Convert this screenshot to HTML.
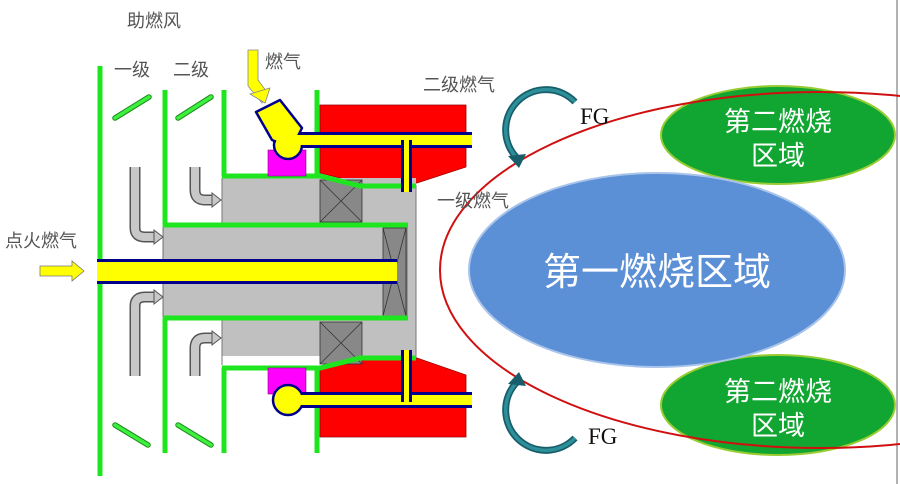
<!DOCTYPE html>
<html><head><meta charset="utf-8"><style>
html,body{margin:0;padding:0;background:#fff;}
svg{display:block;}
text{font-family:"Liberation Sans","Noto Sans CJK SC",sans-serif;}
</style></head><body>
<svg width="900" height="484" viewBox="0 0 900 484" xmlns="http://www.w3.org/2000/svg">
<rect width="900" height="484" fill="#fff"/>
<line x1="897" y1="0" x2="897" y2="484" stroke="#999" stroke-width="1.5"/>

<polygon points="320,105 466,105 466,167 417,183 360,183 320,173" fill="#f00" stroke="#900" stroke-width="0.8"/>
<polygon points="320,368 360,358 417,358 466,375 466,437 320,437" fill="#f00" stroke="#900" stroke-width="0.8"/>

<rect x="222" y="178" width="194" height="178" fill="#c0c0c0"/>
<polygon points="320,178 320,176 360,186 416,186 416,178" fill="#c0c0c0"/>
<rect x="163" y="227" width="244" height="90" fill="#c0c0c0" stroke="#555" stroke-width="0.8"/>
<line x1="222" y1="178" x2="222" y2="225" stroke="#777" stroke-width="1"/>
<line x1="222" y1="320" x2="222" y2="365" stroke="#777" stroke-width="1"/>
<line x1="416" y1="185" x2="416" y2="358" stroke="#777" stroke-width="1"/>
<g fill="#888" stroke="#333" stroke-width="0.8">
<rect x="320" y="180" width="42" height="42"/><rect x="320" y="322" width="42" height="42"/>
<rect x="383" y="228" width="23" height="88"/>
</g>
<g stroke="#333" stroke-width="0.8">
<line x1="320" y1="180" x2="362" y2="222"/><line x1="362" y1="180" x2="320" y2="222"/>
<line x1="320" y1="322" x2="362" y2="364"/><line x1="362" y1="322" x2="320" y2="364"/>
<line x1="383" y1="228" x2="406" y2="316"/><line x1="406" y1="228" x2="383" y2="316"/>
</g>

<g fill="none" stroke="#1ee61e" stroke-width="5">
<line x1="100" y1="66" x2="100" y2="476"/>
<line x1="165" y1="90" x2="165" y2="226"/>
<line x1="165" y1="318" x2="165" y2="453"/>
<line x1="224" y1="90" x2="224" y2="176"/>
<line x1="224" y1="368" x2="224" y2="453"/>
<line x1="317" y1="90" x2="317" y2="176"/>
<line x1="317" y1="368" x2="317" y2="453"/>
<polyline points="222,176 320,176 360,186 416,186"/>
<polyline points="222,368 320,368 360,358 416,358"/>
<line x1="163" y1="225" x2="408" y2="225"/>
<line x1="163" y1="318" x2="408" y2="318"/>
</g>

<rect x="97" y="259" width="300" height="25" fill="#00008b"/>
<rect x="97" y="262" width="300" height="19" fill="#ff0"/>

<rect x="268" y="150" width="38" height="26" fill="#f0f" stroke="#808" stroke-width="0.6"/>
<rect x="300" y="132" width="172" height="16" fill="#00008b"/>
<rect x="300" y="135" width="172" height="10" fill="#ff0"/>
<rect x="401" y="140" width="11" height="52" fill="#00008b"/>
<rect x="404" y="140" width="5" height="52" fill="#ff0"/>
<circle cx="288" cy="145" r="14" fill="#ff0" stroke="#00008b" stroke-width="2.5"/>
<polygon points="256,112 280,100 302,128 292,148 272,140" fill="#ff0" stroke="#00008b" stroke-width="2.5" stroke-linejoin="round"/>
<circle cx="288" cy="145" r="12.5" fill="#ff0"/>
<rect x="296" y="135" width="12" height="10" fill="#ff0"/>

<rect x="268" y="368" width="38" height="26" fill="#f0f" stroke="#808" stroke-width="0.6"/>
<rect x="300" y="392" width="172" height="16" fill="#00008b"/>
<rect x="300" y="395" width="172" height="10" fill="#ff0"/>
<rect x="401" y="350" width="11" height="52" fill="#00008b"/>
<rect x="404" y="350" width="5" height="52" fill="#ff0"/>
<circle cx="288" cy="400" r="15" fill="#ff0" stroke="#00008b" stroke-width="2.5"/>
<rect x="298" y="395" width="10" height="10" fill="#ff0"/>

<polygon points="248,50 258,50 258,80 267,92 262,103 248,86" fill="#ff0" stroke="#888" stroke-width="0.8"/>
<polygon points="250,94 270,88 265,103" fill="#ff0" stroke="#888" stroke-width="0.8"/>
<polygon points="40,266 72,266 72,261 84,271 72,281 72,276 40,276" fill="#ff0" stroke="#777" stroke-width="0.8"/>

<g fill="none" stroke-linejoin="round">
<g stroke="#555" stroke-width="11">
<path d="M135,167 V228 Q135,237 145,237 H156"/>
<path d="M195,167 V190 Q195,200 205,200 H214"/>
<path d="M135,376 V306 Q135,297 145,297 H156"/>
<path d="M195,376 V348 Q195,338 205,338 H214"/>
</g>
<g stroke="#c8c8c8" stroke-width="8">
<path d="M135,167 V228 Q135,237 145,237 H157"/>
<path d="M195,167 V190 Q195,200 205,200 H215"/>
<path d="M135,376 V306 Q135,297 145,297 H157"/>
<path d="M195,376 V348 Q195,338 205,338 H215"/>
</g>
</g>
<g fill="#c8c8c8" stroke="#555" stroke-width="1">
<polygon points="154,230 163,237 154,244"/>
<polygon points="212,193 221,200 212,207"/>
<polygon points="154,290 163,297 154,304"/>
<polygon points="212,331 221,338 212,345"/>
</g>

<g stroke="#1a8a1a" stroke-width="5.5" stroke-linecap="round"><line x1="115" y1="118" x2="149" y2="97"/><line x1="178" y1="118" x2="211" y2="97"/><line x1="115" y1="425" x2="148" y2="445"/><line x1="178" y1="425" x2="211" y2="445"/></g>
<g stroke="#3ef03e" stroke-width="3.5" stroke-linecap="round"><line x1="115" y1="118" x2="149" y2="97"/><line x1="178" y1="118" x2="211" y2="97"/><line x1="115" y1="425" x2="148" y2="445"/><line x1="178" y1="425" x2="211" y2="445"/></g>

<ellipse cx="778" cy="135" rx="117" ry="49" fill="#11a532" stroke="#9c3" stroke-width="2"/>
<ellipse cx="778" cy="405" rx="117" ry="50" fill="#11a532" stroke="#9c3" stroke-width="2"/>
<ellipse cx="657" cy="270" rx="188" ry="97" fill="#5b8fd6" stroke="#a9c4ea" stroke-width="2"/>
<ellipse cx="820" cy="270" rx="380" ry="178" fill="none" stroke="#d01010" stroke-width="2"/>

<g fill="none" stroke="#175e6a" stroke-width="7">
<path d="M575,102 A33,33 0 1,0 517,158"/>
<path d="M575,438 A33,33 0 1,1 517,382"/>
</g>
<g fill="none" stroke="#2d8f99" stroke-width="3.5">
<path d="M575,102 A33,33 0 1,0 517,158"/>
<path d="M575,438 A33,33 0 1,1 517,382"/>
</g>
<polygon points="508,156 526,154 519,168" fill="#175e6a"/>
<polygon points="508,384 526,386 519,372" fill="#175e6a"/>

<g fill="#555" font-size="18">
<text x="127" y="27">助燃风</text>
<text x="114" y="76">一级</text>
<text x="173" y="76">二级</text>
<text x="265" y="68">燃气</text>
<text x="423" y="91">二级燃气</text>
<text x="437" y="207">一级燃气</text>
<text x="5" y="247">点火燃气</text>
</g>
<g fill="#111" font-size="23">
<text x="580" y="124" style="font-family:'Liberation Serif',serif">FG</text>
<text x="588" y="444" style="font-family:'Liberation Serif',serif">FG</text>
</g>
<g fill="#fff" text-anchor="middle">
<text x="778" y="131" font-size="27">第二燃烧</text>
<text x="778" y="165" font-size="27">区域</text>
<text x="778" y="401" font-size="27">第二燃烧</text>
<text x="778" y="435" font-size="27">区域</text>
<text x="657" y="285" font-size="38">第一燃烧区域</text>
</g>
</svg>
</body></html>
